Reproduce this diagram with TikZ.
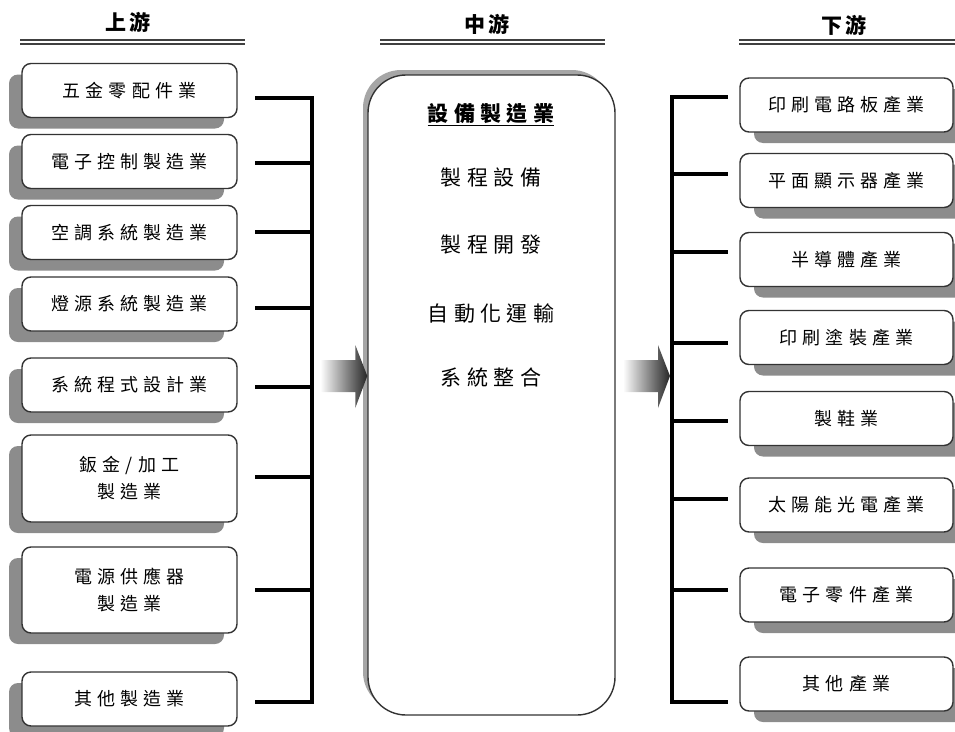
\documentclass[tikz,border=0pt]{standalone}
\usepackage{fontspec}
\usetikzlibrary{positioning,shadows}
\newfontfamily\boxfont{Noto Sans CJK TC}[LetterSpace=28]
\newfontfamily\midfont{Noto Sans CJK TC}[LetterSpace=26]
\newfontfamily\headfont{Noto Sans CJK TC}[LetterSpace=19]

\begin{document}
\begin{tikzpicture}[x=1pt,y=-1pt,
  stagebox/.style={draw=black!80,line width=1.4pt,fill=white,rounded corners=9pt,
    minimum width=215pt,minimum height=54pt,align=center,
    font=\boxfont\fontsize{18}{27}\selectfont},
  upbox/.style={stagebox,
    drop shadow={shadow xshift=-13pt,shadow yshift=-11pt,fill=black!45,opacity=1}},
  downbox/.style={stagebox,minimum width=213pt,
    drop shadow={shadow xshift=14pt,shadow yshift=-11pt,fill=black!45,opacity=1}},
  head/.style={font=\headfont\bfseries\fontsize{21}{25}\selectfont},
  headline/.style={draw=black!75,double distance=2pt,line width=2pt},
  midtext/.style={font=\midfont\fontsize{21}{25}\selectfont},
  link/.style={line width=4pt,line cap=rect},
  flow/.style={left color=white,right color=black!85}]
\useasboundingbox (0,0) rectangle (955,731);

\node[head] (uphead) at (128,22) {上游};
\node[head] (midhead) at (487,24) {中游};
\node[head] (downhead) at (844,25) {下游};
\draw[headline] (20,42) -- (245,42);
\draw[headline] (380,42) -- (605,42);
\draw[headline] (739,42) -- (955,42);

\node[upbox] (up1) at (129.5,90.5) {五金零配件業};
\node[upbox] (up2) at (129.5,161.5) {電子控制製造業};
\node[upbox] (up3) at (129.5,232.5) {空調系統製造業};
\node[upbox] (up4) at (129.5,304) {燈源系統製造業};
\node[upbox] (up5) at (129.5,385) {系統程式設計業};
\node[upbox,minimum height=87pt] (up6) at (129.5,478.5) {鈑金/加工\\製造業};
\node[upbox,minimum height=86pt] (up7) at (129.5,590) {電源供應器\\製造業};
\node[upbox] (up8) at (129.5,699) {其他製造業};

\node[draw=black!80,line width=1.4pt,fill=white,rounded corners=38pt,
  minimum width=247pt,minimum height=640pt,
  drop shadow={shadow xshift=-5pt,shadow yshift=5pt,fill=black!35,opacity=1}] (mid) at (491.5,395) {};
\node[midtext,font=\midfont\bfseries\fontsize{21}{25}\selectfont] (mtitle) at (491,115) {\underline{設備製造業}};
\node[midtext] (m1) at (491,178) {製程設備};
\node[midtext] (m2) at (491,245) {製程開發};
\node[midtext] (m3) at (491,313) {自動化運輸};
\node[midtext] (m4) at (491,378) {系統整合};

\node[downbox] (down1) at (846.5,105) {印刷電路板產業};
\node[downbox] (down2) at (846.5,180.5) {平面顯示器產業};
\node[downbox] (down3) at (846.5,259.5) {半導體產業};
\node[downbox] (down4) at (846.5,337.5) {印刷塗裝產業};
\node[downbox] (down5) at (846.5,418.5) {製鞋業};
\node[downbox] (down6) at (846.5,505) {太陽能光電產業};
\node[downbox] (down7) at (846.5,595) {電子零件產業};
\node[downbox] (down8) at (846.5,684) {其他產業};

\coordinate (ltop) at (312,98);
\coordinate (lbot) at (312,702);
\coordinate (rtop) at (672,97);
\coordinate (rbot) at (672,702);
\draw[link] (ltop) -- (lbot);
\draw[link] (rtop) -- (rbot);
\foreach \n/\y in {1/98,2/163,3/232,4/308,5/387,6/477,7/590,8/702}
  \draw[link] ([xshift=19pt]up\n.east |- 0,\y) -- (ltop |- 0,\y);
\foreach \n/\y in {1/97,2/174,3/252,4/343,5/421,6/499,7/590,8/702}
  \draw[link] (rtop |- 0,\y) -- ([xshift=-13pt]down\n.west |- 0,\y);

\coordinate (ltip) at (mid.west |- 0,376);
\coordinate (rtip) at ([xshift=-2pt]rtop |- 0,376);
\shade[flow] (ltip) -- ++(-12,-31) -- ++(0,15) -- ++(-35,0) -- ++(0,32) -- ++(35,0) -- ++(0,16) -- cycle;
\shade[flow] (rtip) -- ++(-12,-31) -- ++(0,15) -- ++(-35,0) -- ++(0,32) -- ++(35,0) -- ++(0,16) -- cycle;
\end{tikzpicture}
\end{document}
